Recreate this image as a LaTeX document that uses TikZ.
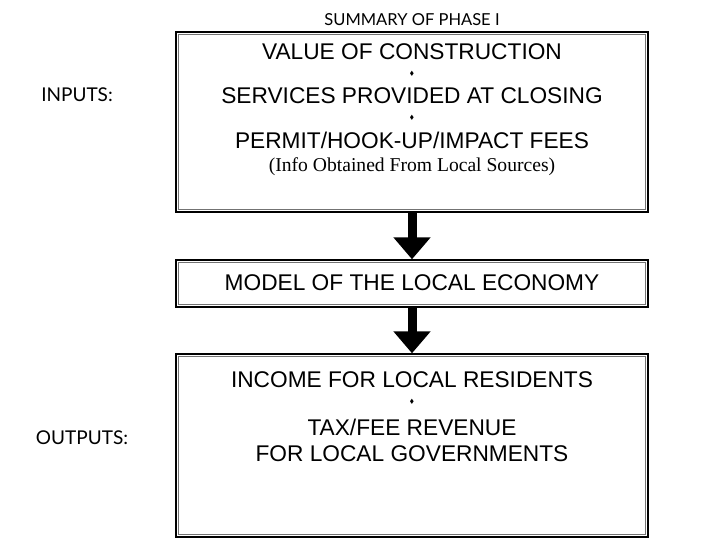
\documentclass[tikz,border=0pt]{standalone}
\usepackage{amssymb}
\usepackage{fontspec}
\setmainfont{Liberation Sans}
\newfontfamily\labelfont{Lato}
\newfontfamily\notefont{Liberation Serif}
\usetikzlibrary{arrows.meta}
\usetikzlibrary{positioning}

\tikzset{
  framebox/.style={draw=black,line width=1.4pt,minimum width=472pt,inner sep=0pt,
    append after command={\pgfextra{\draw[black!55,line width=0.7pt]
      ([shift={(3.2pt,-3.2pt)}]\tikzlastnode.north west) rectangle
      ([shift={(-3.2pt,3.2pt)}]\tikzlastnode.south east);}}},
  boxtext/.style={inner sep=0pt,font=\fontsize{22.7}{26}\selectfont},
  notetext/.style={inner sep=0pt,font=\notefont\fontsize{19.6}{22}\selectfont},
  sidetext/.style={inner sep=0pt,font=\labelfont\fontsize{19}{22}\selectfont},
  dotmark/.style={inner sep=0pt,font=\fontsize{6}{6}\selectfont},
  flowarrow/.style={line width=9pt,-{Triangle[width=36pt,length=22pt]}}
}

\begin{document}
\begin{tikzpicture}[x=1pt,y=-1pt]
  % Constants
  \pgfmathsetmacro\cx{412}
  % Boundary
  \path[use as bounding box] (0,0) rectangle (717,554);
  % Title
  \node[inner sep=0pt,font=\labelfont\fontsize{16.5}{18}\selectfont] (title) at (\cx,20) {SUMMARY OF PHASE I};
  % Boxes
  \node[framebox,minimum height=180pt] (inbox) at (\cx,122) {};
  \node[framebox,minimum height=47pt] (modelbox) at (\cx,283.5) {};
  \node[framebox,minimum height=183pt] (outbox) at (\cx,445.5) {};
  % Inputs
  \node[boxtext] (value) at (\cx,52) {VALUE OF CONSTRUCTION};
  \node[dotmark] (dota) at (\cx,74) {$\blacklozenge$};
  \node[boxtext] (services) at (\cx,96) {SERVICES PROVIDED AT CLOSING};
  \node[dotmark] (dotb) at (\cx,118) {$\blacklozenge$};
  \node[boxtext] (fees) at (\cx,140) {PERMIT/HOOK-UP/IMPACT FEES};
  \node[notetext] (info) at (\cx,167) {(Info Obtained From Local Sources)};
  % Model
  \node[boxtext] (model) at (\cx,283) {MODEL OF THE LOCAL ECONOMY};
  % Outputs
  \node[boxtext] (income) at (\cx,380) {INCOME FOR LOCAL RESIDENTS};
  \node[dotmark] (dotc) at (\cx,402) {$\blacklozenge$};
  \node[boxtext,align=center] (revenue) at (\cx,440) {TAX/FEE REVENUE\\FOR LOCAL GOVERNMENTS};
  % Side labels
  \node[sidetext] (inputs) at (77,95) {INPUTS:};
  \node[sidetext] (outputs) at (82,438) {OUTPUTS:};
  % Arrows
  \draw[flowarrow] (inbox.south) -- (modelbox.north);
  \draw[flowarrow] (modelbox.south) -- (outbox.north);
\end{tikzpicture}
\end{document}
